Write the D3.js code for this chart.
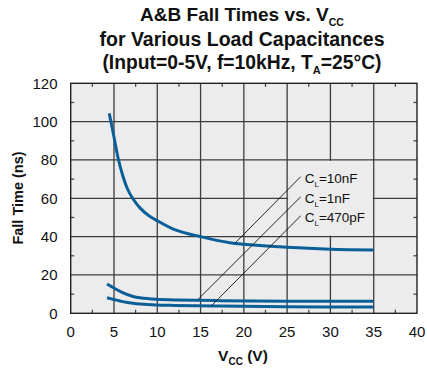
<!DOCTYPE html>
<html>
<head>
<meta charset="utf-8">
<script src="https://cdn.jsdelivr.net/npm/d3@7"></script>
<style>
  html, body { margin: 0; padding: 0; background: #fff; }
  svg { display: block; }
  text { font-family: "Liberation Sans", Arial, Helvetica, sans-serif; fill: #111; }
</style>
</head>
<body>
<svg id="chart" width="427" height="371"></svg>
<script>
// ---- data ----
const vcc10nF = [4.45, 5, 5.5, 6, 6.5, 7.15, 8, 9, 10, 12, 15, 18.4, 20, 25, 30, 35];
const fall10nF = [104.3, 92, 80.5, 72, 65.5, 60, 55, 51, 48.3, 43.7, 40, 36.8, 36, 34.4, 33.4, 33];
const vccLow = [4.2, 5, 6, 7.2, 8, 9.9, 12, 17.2, 25, 35];
const fall1nF = [15.3, 13.2, 10.8, 8.8, 8.1, 7.3, 7.0, 6.6, 6.3, 6.3];
const fall470pF = [8.1, 7.2, 6.1, 5.2, 4.8, 4.3, 4.1, 3.8, 3.4, 3.3];
const seriesNames = ["10nF", "1nF", "470pF"];
const leaderStartV = [26.57, 26.57, 26.57];
const leaderStartT = [71.3, 60.8, 50.9];
const leaderEndV = [18.96, 14.72, 16.27];
const leaderEndT = [36.5, 7.3, 4.0];
const xTicks = [0, 5, 10, 15, 20, 25, 30, 35, 40];
const yTicks = [0, 20, 40, 60, 80, 100, 120];
const xMinor = [2.5, 7.5, 12.5, 17.5, 22.5, 27.5, 32.5, 37.5];
const yMinor = [10, 30, 50, 70, 90, 110];

// ---- layout ----
const svg = d3.select("#chart");
const pL = 70.7, pR = 417, pT = 83.3, pB = 313.3;
const x = d3.scaleLinear().domain([0, 40]).range([pL, pR]);
const y = d3.scaleLinear().domain([0, 120]).range([pB, pT]);
const gridColor = "#3c3c3c";
const curveColor = "#0b5f99";
const bg = "#ececec";

// plot background
svg.append("rect").attr("x", pL).attr("y", pT)
  .attr("width", pR - pL).attr("height", pB - pT).attr("fill", bg);

// grid
const g = svg.append("g");
g.selectAll("line.vg").data(xTicks.slice(1, -1)).enter().append("line").attr("class", "vg")
  .attr("x1", d => x(d)).attr("x2", d => x(d)).attr("y1", pT).attr("y2", pB)
  .attr("stroke", gridColor).attr("stroke-width", 1.3);
g.selectAll("line.hg").data(yTicks.slice(1, -1)).enter().append("line").attr("class", "hg")
  .attr("y1", d => y(d)).attr("y2", d => y(d)).attr("x1", pL).attr("x2", pR)
  .attr("stroke", gridColor).attr("stroke-width", 1.3);

// minor ticks (inside, all four sides)
const tl = 3.5;
g.selectAll("line.mxb").data(xMinor).enter().append("line").attr("class", "mxb")
  .attr("x1", d => x(d)).attr("x2", d => x(d)).attr("y1", pB).attr("y2", pB - tl)
  .attr("stroke", gridColor).attr("stroke-width", 1.2);
g.selectAll("line.mxt").data(xMinor).enter().append("line").attr("class", "mxt")
  .attr("x1", d => x(d)).attr("x2", d => x(d)).attr("y1", pT).attr("y2", pT + tl)
  .attr("stroke", gridColor).attr("stroke-width", 1.2);
g.selectAll("line.myl").data(yMinor).enter().append("line").attr("class", "myl")
  .attr("y1", d => y(d)).attr("y2", d => y(d)).attr("x1", pL).attr("x2", pL + tl)
  .attr("stroke", gridColor).attr("stroke-width", 1.2);
g.selectAll("line.myr").data(yMinor).enter().append("line").attr("class", "myr")
  .attr("y1", d => y(d)).attr("y2", d => y(d)).attr("x1", pR).attr("x2", pR - tl)
  .attr("stroke", gridColor).attr("stroke-width", 1.2);

// border
svg.append("rect").attr("x", pL).attr("y", pT)
  .attr("width", pR - pL).attr("height", pB - pT)
  .attr("fill", "none").attr("stroke", "#222").attr("stroke-width", 1.4);

// label backdrop (hides grid behind labels)
svg.append("rect").attr("x", x(25) + 1).attr("y", y(80) + 1)
  .attr("width", x(35) - x(25) - 2).attr("height", y(40) - y(80) - 2).attr("fill", bg);

// curves
const line = d3.line().x(d => x(d[0])).y(d => y(d[1])).curve(d3.curveCatmullRom.alpha(0.5));
const seriesData = [
  d3.zip(vcc10nF, fall10nF),
  d3.zip(vccLow, fall1nF),
  d3.zip(vccLow, fall470pF)
];
svg.selectAll("path.curve").data(seriesData).enter().append("path").attr("class", "curve")
  .attr("d", line).attr("fill", "none").attr("stroke", curveColor)
  .attr("stroke-width", 3).attr("stroke-linecap", "butt");

// leader lines
svg.selectAll("line.leader").data(seriesNames).enter().append("line").attr("class", "leader")
  .attr("x1", (d, i) => x(leaderStartV[i])).attr("y1", (d, i) => y(leaderStartT[i]))
  .attr("x2", (d, i) => x(leaderEndV[i])).attr("y2", (d, i) => y(leaderEndT[i]))
  .attr("stroke", "#111").attr("stroke-width", 0.9);

// labels
seriesNames.forEach((n, i) => {
  const t = svg.append("text")
    .attr("x", x(leaderStartV[i]) + 4).attr("y", y(leaderStartT[i]) + 6.6)
    .attr("font-size", 13.5);
  t.append("tspan").text("C");
  t.append("tspan").attr("font-size", 8).attr("dy", 3.5).text("L");
  t.append("tspan").attr("dy", -3.5).text("=" + n);
});

// tick labels
svg.selectAll("text.xl").data(xTicks).enter().append("text").attr("class", "xl")
  .attr("x", d => x(d)).attr("y", 336.5).attr("text-anchor", "middle")
  .attr("font-size", 15).text(d => d);
svg.selectAll("text.yl").data(yTicks).enter().append("text").attr("class", "yl")
  .attr("x", 57.5).attr("y", d => y(d) + 5.3).attr("text-anchor", "end")
  .attr("font-size", 15).text(d => d);

// axis titles
const xt = svg.append("text").attr("x", 243).attr("y", 361)
  .attr("text-anchor", "middle").attr("font-size", 15.5).attr("font-weight", "bold");
xt.append("tspan").text("V");
xt.append("tspan").attr("font-size", 10).attr("dy", 4).text("CC");
xt.append("tspan").attr("dy", -4).text(" (V)");

svg.append("text").attr("transform", "translate(23,198) rotate(-90)")
  .attr("text-anchor", "middle").attr("font-size", 14.5).attr("font-weight", "bold")
  .text("Fall Time (ns)");

// title
const cx = 242;
const t1 = svg.append("text").attr("x", cx).attr("y", 20.5).attr("text-anchor", "middle")
  .attr("font-size", 19).attr("font-weight", "bold");
t1.append("tspan").text("A&B Fall Times vs. V");
t1.append("tspan").attr("font-size", 10.5).attr("dy", 5).text("CC");
svg.append("text").attr("x", cx).attr("y", 46).attr("text-anchor", "middle")
  .attr("font-size", 19.5).attr("font-weight", "bold").text("for Various Load Capacitances");
const t3 = svg.append("text").attr("x", cx).attr("y", 68.5).attr("text-anchor", "middle")
  .attr("font-size", 19.3).attr("font-weight", "bold");
t3.append("tspan").text("(Input=0-5V, f=10kHz, T");
t3.append("tspan").attr("font-size", 11).attr("dy", 5).text("A");
t3.append("tspan").attr("dy", -5).text("=25°C)");
</script>
</body>
</html>
